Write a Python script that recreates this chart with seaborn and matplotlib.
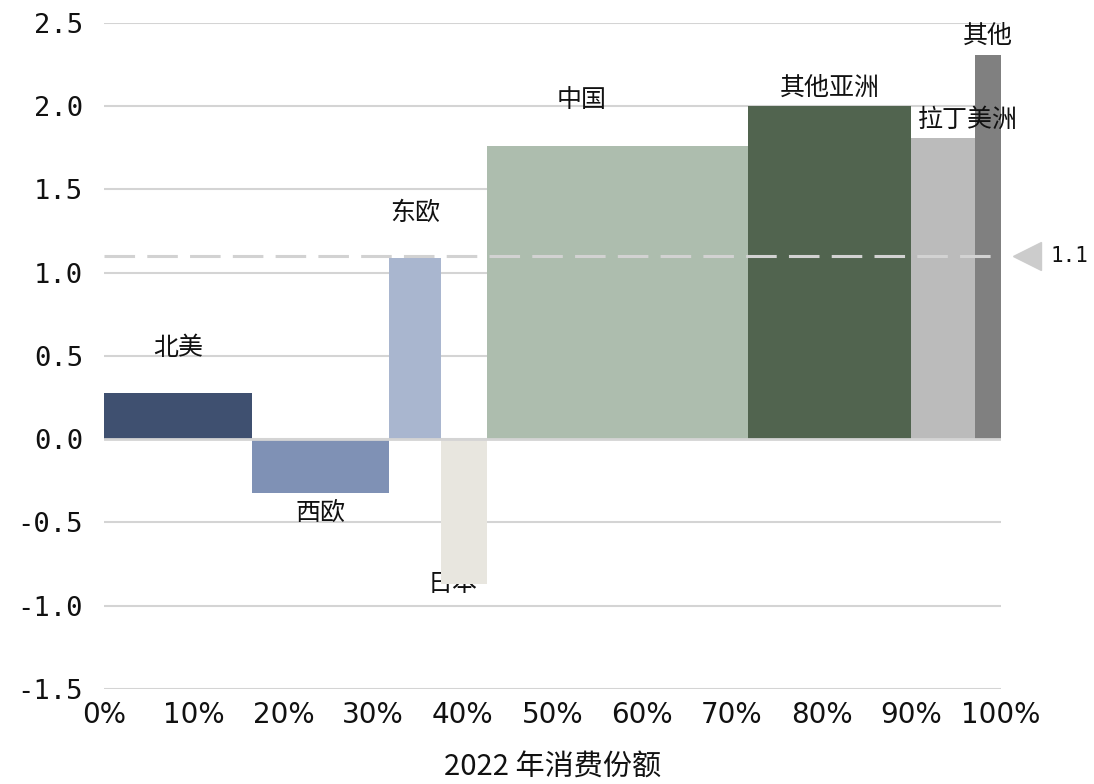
import numpy as np
import pandas as pd
import seaborn as sns
import matplotlib.pyplot as plt

# data
regions = ["北美", "西欧", "东欧", "日本", "中国", "其他亚洲", "拉丁美洲", "其他"]
shares = [16.5, 15.3, 5.8, 5.1, 29.1, 18.2, 7.1, 2.9]      # 2022 consumption share, %
values = [0.28, -0.32, 1.09, -0.87, 1.76, 2.00, 1.81, 2.31]
colors = ["#3f5070", "#7f91b5", "#a9b6cf", "#e8e6df",
          "#adbdae", "#51644f", "#bbbbbb", "#808080"]
avg_value = 1.1
y_ticks = [-1.5, -1.0, -0.5, 0.0, 0.5, 1.0, 1.5, 2.0, 2.5]
x_ticks = [0, 10, 20, 30, 40, 50, 60, 70, 80, 90, 100]

# label nudges relative to bar end / bar middle (data units)
label_dx = [0, 0, 0, -1.3, -4.0, 0, 2.8, 0]
label_dy = [0.27, -0.12, 0.27, 0.0, 0.28, 0.11, 0.11, 0.11]

CJK = ["Noto Sans CJK SC", "DejaVu Sans"]

sns.set_theme(style="white")
plt.rcParams["font.family"] = CJK

lefts = np.concatenate([[0], np.cumsum(shares)[:-1]])
mids = lefts + np.array(shares) / 2
df = pd.DataFrame({"region": regions, "mid": mids, "value": values})

fig = plt.figure(figsize=(10.94, 7.84), dpi=100)
ax = fig.add_axes([0.0951, 0.1212, 0.8199, 0.8495])

sns.barplot(data=df, x="mid", y="value", hue="region", palette=colors,
            native_scale=True, dodge=False, legend=False, errorbar=None,
            linewidth=0, saturation=1, ax=ax, zorder=2)

# seaborn gives equal widths; stretch each bar to its share
patches = sorted(ax.patches, key=lambda p: p.get_x() + p.get_width() / 2)
for p, left, w in zip(patches, lefts, shares):
    p.set_x(left)
    p.set_width(w)

# grid
for yv in y_ticks:
    ax.axhline(yv, color="#d4d4d4", lw=1.5, zorder=1)
ax.axhline(0, color="#d4d4d4", lw=2, zorder=3)

# average line with marker outside the plot
ax.axhline(avg_value, color="#d2d2d2", lw=2.2, dashes=(10, 4), zorder=4)
ax.plot([102.9], [avg_value], marker="<", markersize=20, color="#cccccc",
        clip_on=False, zorder=4)
ax.text(107.6, avg_value, f"{avg_value}", ha="center", va="center",
        fontsize=15, family="DejaVu Sans Mono", color="#111111")

# region labels
for i, r in enumerate(regions):
    y = values[i] + label_dy[i]
    z = 1.5 if r == "日本" else 5
    ax.text(mids[i] + label_dx[i], y, r, ha="center", va="center",
            fontsize=18, color="#111111", family=CJK, zorder=z)

ax.set_xlim(0, 100)
ax.set_ylim(-1.5, 2.5)
ax.set_yticks(y_ticks)
ax.set_yticklabels([f"{v:.1f}" for v in y_ticks], family="DejaVu Sans Mono",
                   fontsize=19.5, color="#111111")
ax.set_xticks(x_ticks)
ax.set_xticklabels([f"{v}%" for v in x_ticks], family="DejaVu Sans",
                   fontsize=20, color="#111111")
ax.tick_params(axis="y", pad=15, length=0)
ax.tick_params(axis="x", pad=9, length=0)
ax.set_xlabel("2022 年消费份额", fontsize=21, color="#111111", labelpad=16)
ax.set_ylabel("")
sns.despine(ax=ax, left=True, bottom=True)

fig.savefig("out.png", dpi=100)
